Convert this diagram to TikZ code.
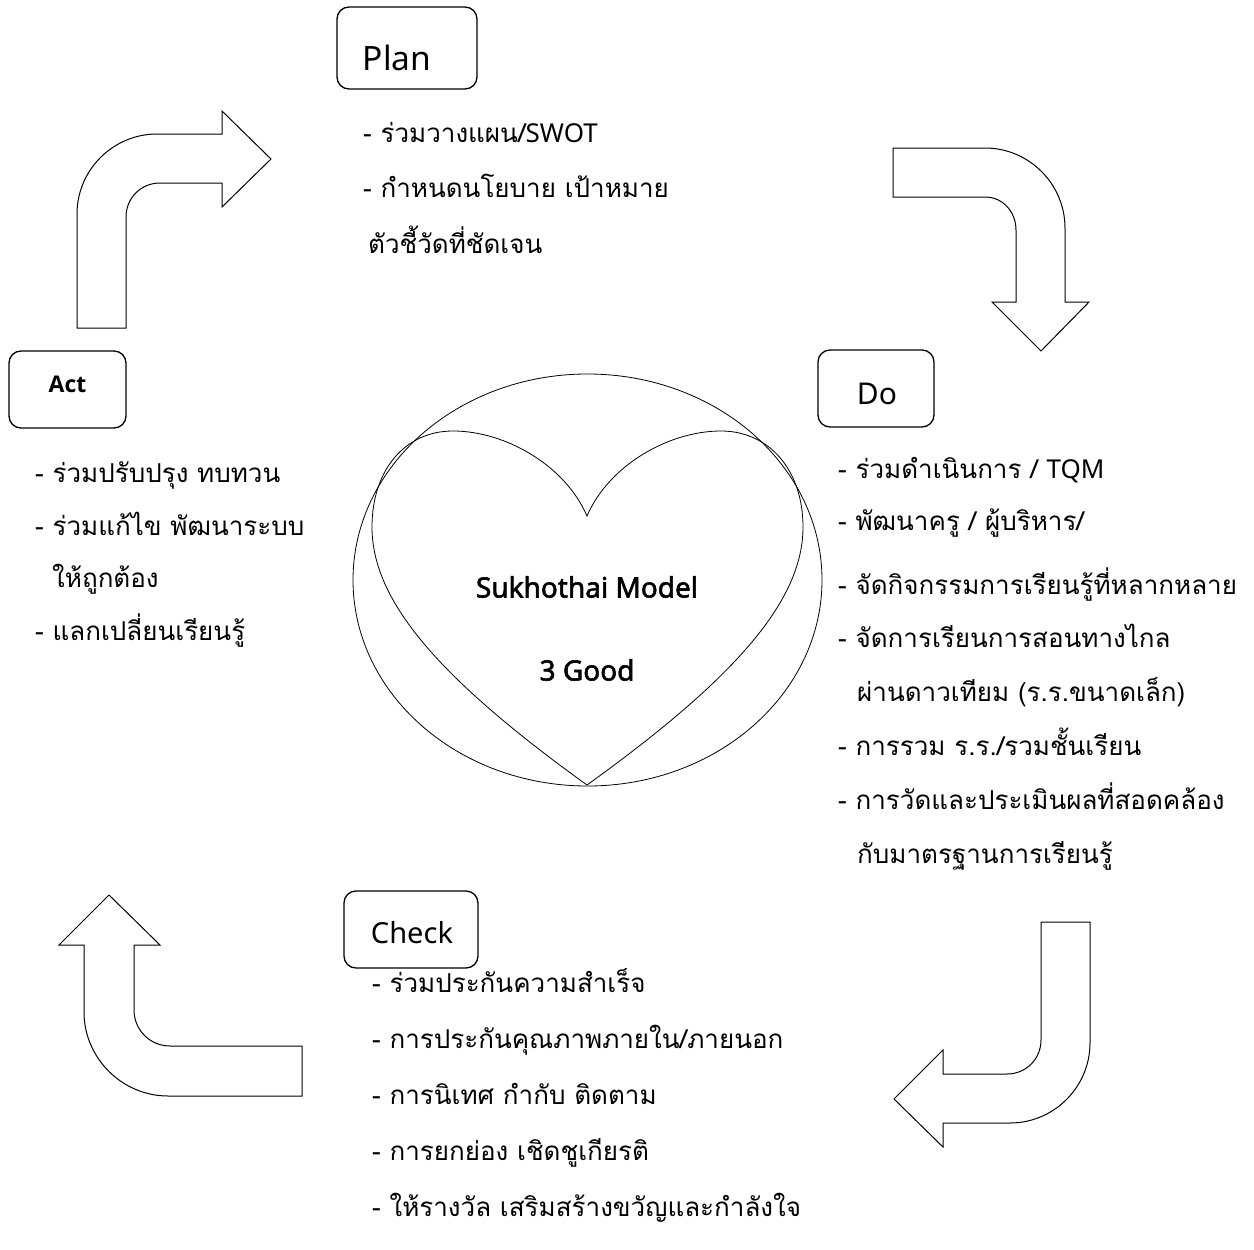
\documentclass[tikz,border=0pt]{standalone}
\usepackage{fontspec}
\usetikzlibrary{shapes.geometric}
\setmainfont{Loma}[Script=Thai]
\newfontfamily\lat{Noto Sans}
\newfontfamily\latsb{Noto Sans}[FakeBold=2]
\newfontfamily\latb{Open Sans}
\newcommand\offtxt[3]{\makebox[0pt]{\hspace*{#1}\raisebox{#2}[0pt][0pt]{#3}}}
\begin{document}
\begin{tikzpicture}[x=1pt,y=-1pt,
  phase/.style={draw, rounded corners=12pt, line width=1.3pt, inner sep=0pt},
  item/.style={anchor=base west, inner sep=0pt, font=\fontsize{26}{30}\selectfont},
  blk/.style={draw, line width=1pt, line join=miter},
  thinline/.style={draw, line width=0.8pt}]
\useasboundingbox (0,0) rectangle (1254,1250);

% ---- phase boxes
\node[phase, minimum width=140pt, minimum height=82pt, font=\lat\fontsize{33.5}{40}\selectfont] (plan) at (407,48) {\offtxt{-20pt}{-22pt}{Plan}};
\node[phase, minimum width=117pt, minimum height=77pt, font=\latb\bfseries\fontsize{23}{30}\selectfont] (act) at (67.5,389.5) {\offtxt{0pt}{-3pt}{Act}};
\node[phase, minimum width=116pt, minimum height=77pt, font=\lat\fontsize{30}{36}\selectfont] (do) at (876,388.5) {\offtxt{2pt}{-16pt}{Do}};
\node[phase, minimum width=134pt, minimum height=77pt, font=\lat\fontsize{29}{36}\selectfont] (check) at (411,929.5) {\offtxt{2pt}{-14pt}{Check}};

% ---- centre
\node[thinline, ellipse, minimum width=469pt, minimum height=412pt, inner sep=0pt] (oval) at (587.5,580) {};
\draw[thinline] (587,785) .. controls (437,677) and (372,600) .. (372,527)
  .. controls (372,470) and (405,431) .. (453,431)
  .. controls (505,431) and (565,465) .. (587,516)
  .. controls (609,465) and (669,431) .. (721,431)
  .. controls (769,431) and (803,470) .. (803,527)
  .. controls (803,600) and (737,677) .. (587,785) -- cycle;
\node[font=\latsb\fontsize{28}{32}\selectfont, inner sep=0pt] (model) at (587,587) {Sukhothai Model};
\node[font=\latsb\fontsize{28}{32}\selectfont, inner sep=0pt] (good) at (587,670) {3 Good};

% ---- block arrows
% Act -> Plan
\draw[blk] (77,328) -- (77,214) .. controls (77,170) and (113,134) .. (157,134)
  -- (222,134) -- (222,111) -- (271,159) -- (222,207) -- (222,183) -- (160,183)
  .. controls (141,183) and (126,198) .. (126,217) -- (126,328) -- cycle;
% Plan -> Do
\draw[blk] (893,148) -- (985,148) .. controls (1029,148) and (1065,184) .. (1065,228)
  -- (1065,302) -- (1089,302) -- (1041,351) -- (992,302) -- (1016,302) -- (1016,230)
  .. controls (1016,212) and (1003,197) .. (985,197) -- (893,197) -- cycle;
% Do -> Check
\draw[blk] (1041,922) -- (1090,922) -- (1090,1043) .. controls (1090,1087) and (1054,1123) .. (1010,1123)
  -- (943,1123) -- (943,1147) -- (894,1099) -- (943,1050) -- (943,1074) -- (1007,1074)
  .. controls (1026,1074) and (1041,1059) .. (1041,1040) -- cycle;
% Check -> Act
\draw[blk] (302,1046) -- (170,1046) .. controls (150,1046) and (134,1030) .. (134,1010)
  -- (134,945) -- (160,945) -- (109,895) -- (59,945) -- (84,945) -- (84,1012)
  .. controls (84,1058) and (122,1096) .. (168,1096) -- (302,1096) -- cycle;

% ---- Plan items
\node[item] (p1) at (363,142) {- ร่วมวางแผน/{\lat SWOT}};
\node[item] (p2) at (363,197) {- กำหนดนโยบาย เป้าหมาย};
\node[item] (p3) at (368,253) {ตัวชี้วัดที่ชัดเจน};

% ---- Act items
\node[item] (a1) at (35,482) {- ร่วมปรับปรุง ทบทวน};
\node[item] (a2) at (35,535) {- ร่วมแก้ไข พัฒนาระบบ};
\node[item] (a3) at (52,587) {ให้ถูกต้อง};
\node[item] (a4) at (35,640) {- แลกเปลี่ยนเรียนรู้};

% ---- Do items
\node[item] (d1) at (838,478) {- ร่วมดำเนินการ / {\lat TQM}};
\node[item] (d2) at (838,530) {- พัฒนาครู / ผู้บริหาร/};
\node[item] (d3) at (838,594) {- จัดกิจกรรมการเรียนรู้ที่หลากหลาย};
\node[item] (d4) at (838,647) {- จัดการเรียนการสอนทางไกล};
\node[item] (d5) at (857,701) {ผ่านดาวเทียม (ร.ร.ขนาดเล็ก)};
\node[item] (d6) at (838,755) {- การรวม ร.ร./รวมชั้นเรียน};
\node[item] (d7) at (838,809) {- การวัดและประเมินผลที่สอดคล้อง};
\node[item] (d8) at (857,863) {กับมาตรฐานการเรียนรู้};

% ---- Check items
\node[item] (c1) at (372,992) {- ร่วมประกันความสำเร็จ};
\node[item] (c2) at (372,1048) {- การประกันคุณภาพภายใน/ภายนอก};
\node[item] (c3) at (372,1104) {- การนิเทศ กำกับ ติดตาม};
\node[item] (c4) at (372,1160) {- การยกย่อง เชิดชูเกียรติ};
\node[item] (c5) at (372,1216) {- ให้รางวัล เสริมสร้างขวัญและกำลังใจ};
\end{tikzpicture}
\end{document}
